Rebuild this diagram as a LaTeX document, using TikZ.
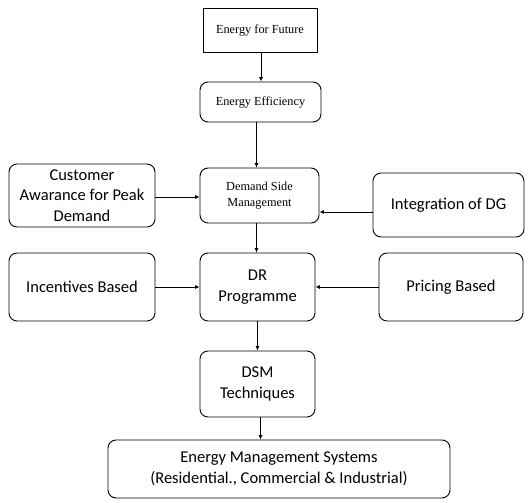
\documentclass[tikz,border=0pt]{standalone}
\usepackage{fontspec}
\setmainfont{Carlito}
\newfontfamily\serifbox{Liberation Serif}
\usetikzlibrary{arrows.meta}
\begin{document}
\begin{tikzpicture}[x=1pt,y=-1pt,
  box/.style={draw,line width=0.9pt,rounded corners=8pt,align=center,inner sep=1pt,
    font=\fontsize{16.5}{20.5}\selectfont},
  sbox/.style={box,font=\serifbox\fontsize{12.3}{16.5}\selectfont},
  arr/.style={line width=0.8pt,-{Latex[length=4.5pt,width=4pt]}}]
\useasboundingbox (0,0) rectangle (531,503);
\node[sbox,rounded corners=0pt,minimum width=114pt,minimum height=44pt] (fut) at (260,30) {Energy for Future};
\node[sbox,minimum width=121pt,minimum height=40pt] (eff) at (260.5,102) {Energy Efficiency};
\node[sbox,minimum width=119pt,minimum height=55pt] (dsm) at (259.5,195.5) {Demand Side\\Management};
\node[box,minimum width=146pt,minimum height=63pt] (cust) at (82,195.5) {Customer\\Awarance for Peak\\Demand};
\node[box,minimum width=151pt,minimum height=64pt] (dg) at (448.5,205) {Integration of DG};
\node[box,minimum width=115pt,minimum height=68pt] (dr) at (257.5,287) {DR\\Programme};
\node[box,minimum width=146pt,minimum height=68pt] (inc) at (82,287) {Incentives Based};
\node[box,minimum width=144pt,minimum height=68pt] (pri) at (451,287) {Pricing Based};
\node[box,minimum width=115pt,minimum height=66pt] (tech) at (257.5,384) {DSM\\Techniques};
\node[box,minimum width=342pt,minimum height=58pt] (ems) at (279,469) {Energy Management Systems\\(Residential., Commercial \& Industrial)};
\draw[arr] ([xshift=1pt]fut.south) -- ([xshift=0.5pt]eff.north);
\draw[arr] ([xshift=-4pt]eff.south) -- ([xshift=-3pt]dsm.north);
\draw[arr] ([yshift=-1.5pt]cust.east) -- ([yshift=-1.5pt]cust.east -| dsm.west);
\draw[arr] ([yshift=-7pt]dg.west) coordinate (dga) -- (dga -| dsm.east);
\draw[arr] ([xshift=-3pt]dsm.south) coordinate (dsa) -- (dsa |- dr.north);
\draw[arr] (inc.east) -- (dr.west);
\draw[arr] (pri.west) -- (dr.east);
\draw[arr] (dr.south) -- (tech.north);
\draw[arr] ([xshift=3pt]tech.south) coordinate (tca) -- (tca |- ems.north);
\end{tikzpicture}
\end{document}
